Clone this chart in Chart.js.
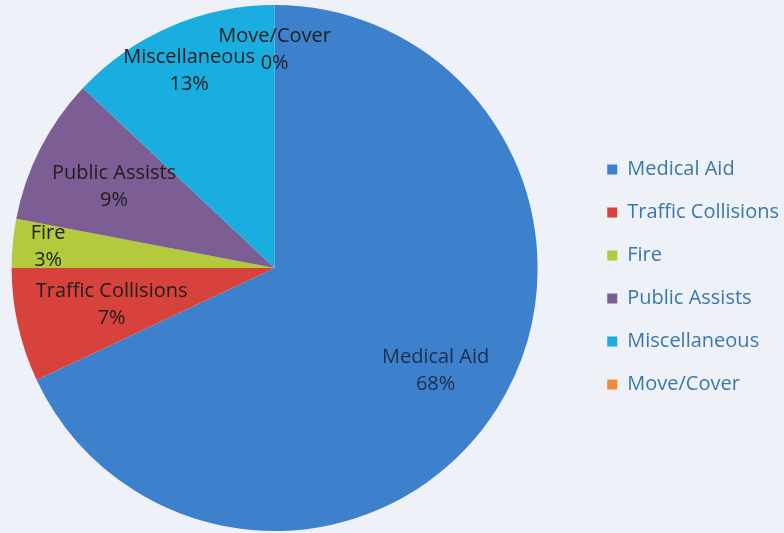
<!DOCTYPE html>
<html>
<head>
<meta charset="utf-8">
<script src="https://cdn.jsdelivr.net/npm/chart.js@4"></script>
<style>
  html, body { margin: 0; padding: 0; background: #eef1f7; }
  #wrap { width: 784px; height: 533px; }
</style>
</head>
<body>
<div id="wrap"><canvas id="myChart"></canvas></div>
<script>
const categories = ['Medical Aid', 'Traffic Collisions', 'Fire', 'Public Assists', 'Miscellaneous', 'Move/Cover'];
const percents = [68, 7, 3, 9, 13, 0];
const sliceColors = ['#3d80cc', '#d8423c', '#b4c93c', '#7d5e94', '#1aade0', '#ef8a3a'];

// where each slice label sits, as a share of the radius
const labelRadius = [0.725, 0.635, 0.865, 0.685, 0.818, 0.83];

const sliceLabels = {
  id: 'sliceLabels',
  afterDatasetsDraw(chart) {
    const ctx = chart.ctx;
    const arcs = chart.getDatasetMeta(0).data;
    ctx.save();
    ctx.font = '20px "Open Sans"';
    ctx.textAlign = 'center';
    ctx.textBaseline = 'middle';
    arcs.forEach((arc, i) => {
      const mid = (arc.startAngle + arc.endAngle) / 2;
      const r = arc.outerRadius * labelRadius[i];
      const x = arc.x + Math.cos(mid) * r;
      const y = arc.y + Math.sin(mid) * r;
      ctx.fillStyle = i === 0 ? '#1b2f4d' : '#1e1e1e';
      ctx.fillText(categories[i], x, y - 13);
      ctx.fillText(percents[i] + '%', x, y + 14);
    });
    ctx.restore();
  }
};

// push the legend to the right, like the original
const legendShift = {
  id: 'legendShift',
  afterLayout(chart) {
    chart.legend.left += 35;
    chart.legend.right += 35;
    chart.legend.top += 9;
    chart.legend.bottom += 9;
  }
};

let myChart = new Chart(
  document.getElementById('myChart'),
  {
    type: 'pie',
    data: {
      labels: categories,
      datasets: [{
        data: percents,
        backgroundColor: sliceColors,
        borderWidth: 0
      }]
    },
    options: {
      responsive: true,
      maintainAspectRatio: false,
      animation: false,
      layout: { padding: { left: 0, top: 5, bottom: 2, right: 30 } },
      plugins: {
        tooltip: { enabled: false },
        legend: {
          position: 'right',
          labels: {
            boxWidth: 10,
            boxHeight: 10,
            padding: 23,
            color: '#3a78a8',
            font: { family: '"Open Sans"', size: 20 }
          }
        }
      }
    },
    plugins: [sliceLabels, legendShift]
  }
);
</script>
</body>
</html>
